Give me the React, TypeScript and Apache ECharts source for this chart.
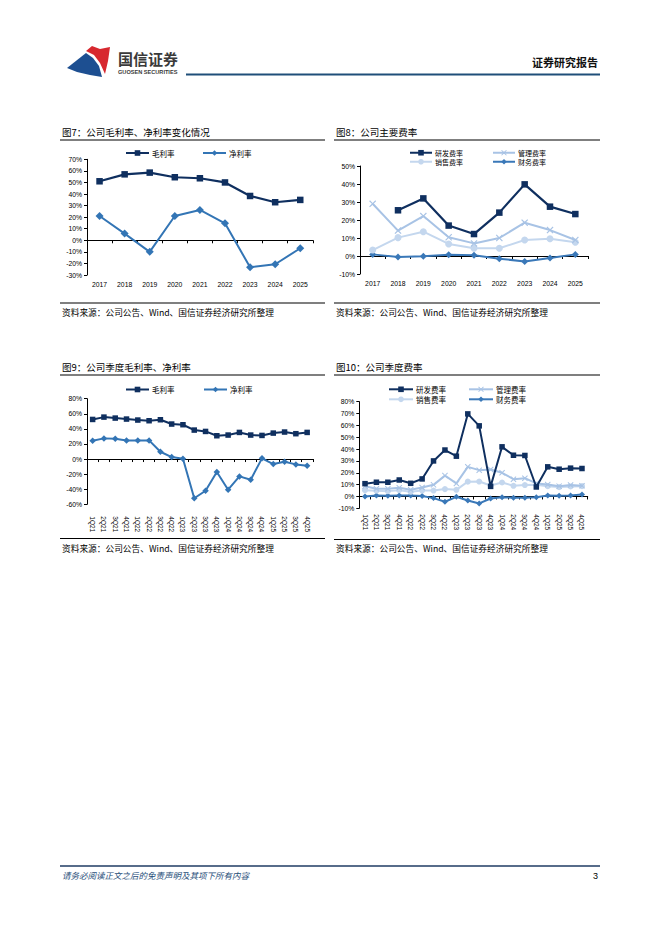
import React, { useEffect, useRef } from "react";
import * as echarts from "echarts";

const years = ["2017", "2018", "2019", "2020", "2021", "2022", "2023", "2024", "2025"];
const grossYear = [51, 57, 58.5, 54.5, 53.6, 50, 38.3, 32.9, 34.9];
const netYear = [21, 5.8, -10, 21, 26.2, 14.7, -23.3, -20.7, -6.9];
const rdYear = [null, 25.4, 32, 16.9, 12.2, 24.1, 39.8, 27.4, 23.3];
const adminYear = [29, 14.1, 22.2, 10.4, 7, 10, 18.5, 14.4, 8.9];
const salesYear = [3.3, 10.2, 13.5, 6.7, 4.3, 4.3, 8.9, 9.6, 7.6];
const finYear = [0.9, -0.6, -0.2, 0.7, 0.4, -1.5, -3, -1.1, 0.9];

const quarters = [
  "1Q21", "2Q21", "3Q21", "4Q21", "1Q22", "2Q22", "3Q22", "4Q22", "1Q23", "2Q23",
  "3Q23", "4Q23", "1Q24", "2Q24", "3Q24", "4Q24", "1Q25", "2Q25", "3Q25", "4Q25",
];
const grossQ = [52.5, 55.6, 54.3, 53, 51.7, 50.8, 52.1, 46.4, 45.5, 38.4, 36.6, 30.9, 31.8, 35.3, 31.8, 31.3, 34.4, 35.8, 33.6, 35.3];
const netQ = [24.3, 27.4, 26.9, 24.7, 24.7, 24.7, 9.7, 2.6, 0.4, -52, -42, -17.2, -40.6, -23, -27.4, 0.9, -6.6, -3.5, -7.1, -8.8];
const rdQ = [10.8, 12, 12, 13.9, 11.1, 14.8, 30, 39.2, 34, 69.7, 59.6, 8.5, 41.9, 34.8, 34.6, 8, 25, 23, 23.9, 23.6];
const adminQ = [8.7, 6.5, 6.5, 7.3, 5.6, 7.6, 9.8, 17.6, 11, 25, 22.2, 22.8, 20, 14.6, 15.4, 11, 10, 8.7, 9.6, 9];
const salesQ = [5.3, 4.8, 4.5, 5.3, 3.9, 5, 5, 6.2, 5.6, 12.5, 12.6, 9.3, 11.8, 9, 9.6, 9.8, 8.7, 7.9, 8.4, 8.7];
const finQ = [0, 0.8, 0.6, 0.8, 0.8, 0.3, -1.4, -4.5, -0.3, -3.4, -5.9, -1.7, -0.6, -1.1, -1.1, -0.6, 0.8, 0.6, 0.8, 1.7];

const NAVY = "#0f2f5f";
const MID = "#3375b5";
const ADMIN = "#a8c3e5";
const SALES = "#c4d7ee";
const FIN = "#3a78b8";
const XSYM = "path://M0,1.2L1.2,0L5,3.8L8.8,0L10,1.2L6.2,5L10,8.8L8.8,10L5,6.2L1.2,10L0,8.8L3.8,5Z";

const CJK = "'Noto Sans CJK SC', sans-serif";
const LAT = "'Liberation Sans', Arial, sans-serif";

export default function App() {
  const ref = useRef<HTMLDivElement>(null);
  useEffect(() => {
    if (!ref.current) return;
    const chart = echarts.init(ref.current, undefined, { renderer: "svg" });

    const grids = [
      { left: 87, top: 159.3, width: 225.8, height: 115.7 },
      { left: 360, top: 166, width: 228, height: 108 },
      { left: 87, top: 398.7, width: 225.8, height: 105.6 },
      { left: 359.3, top: 401.7, width: 228.4, height: 106.6 },
    ];
    const cats = [years, years, quarters, quarters];
    const yr = [
      { min: -30, max: 70, interval: 10 },
      { min: -10, max: 50, interval: 10 },
      { min: -60, max: 80, interval: 20 },
      { min: -10, max: 80, interval: 10 },
    ];
    const labelMargin = [6, 6, 12, 6];
    const xAxis: any[] = [];
    const yAxis: any[] = [];
    cats.forEach((c, i) => {
      const rotated = i >= 2;
      xAxis.push({
        type: "category",
        gridIndex: i,
        data: c,
        position: "bottom",
        boundaryGap: true,
        axisLine: { show: false, onZero: false },
        axisTick: { show: false },
        axisLabel: {
          show: true,
          interval: 0,
          rotate: rotated ? -90 : 0,
          margin: labelMargin[i],
          fontSize: rotated ? 6.5 : 6.8,
          color: "#000",
          fontFamily: LAT,
        },
        splitLine: { show: false },
      });
      xAxis.push({
        type: "category",
        gridIndex: i,
        data: c,
        position: "bottom",
        boundaryGap: true,
        axisLine: { show: true, onZero: true, lineStyle: { color: "#000", width: 1 } },
        axisTick: { show: true, length: 3, interval: 0, lineStyle: { color: "#000", width: 1 } },
        axisLabel: { show: false },
        splitLine: { show: false },
      });
      yAxis.push({
        type: "value",
        gridIndex: i,
        min: yr[i].min,
        max: yr[i].max,
        interval: yr[i].interval,
        axisLine: { show: true, lineStyle: { color: "#000", width: 1 } },
        axisTick: { show: true, length: 3, lineStyle: { color: "#000", width: 1 } },
        axisLabel: { formatter: "{value}%", fontSize: 6.8, color: "#000", margin: 5, fontFamily: LAT },
        splitLine: { show: false },
      });
    });

    const ln = (
      name: string,
      data: any[],
      gi: number,
      color: string,
      symbol: string,
      size: number,
      width: number,
      z: number
    ) => ({
      type: "line",
      name,
      data,
      xAxisIndex: gi * 2,
      yAxisIndex: gi,
      symbol,
      symbolSize: size,
      showSymbol: true,
      connectNulls: false,
      itemStyle: { color, opacity: 1 },
      lineStyle: { color, width },
      z,
      emphasis: { disabled: true },
    });

    const series = [
      ln("毛利率", grossYear, 0, NAVY, "rect", 6.5, 2.2, 3),
      ln("净利率", netYear, 0, MID, "diamond", 8, 2, 3),
      ln("财务费率", finYear, 1, FIN, "diamond", 7, 2, 2),
      ln("销售费率", salesYear, 1, SALES, "circle", 7, 2, 3),
      ln("管理费率", adminYear, 1, ADMIN, XSYM, 7, 2, 4),
      ln("研发费率", rdYear, 1, NAVY, "rect", 6.5, 2.2, 5),
      ln("毛利率", grossQ, 2, NAVY, "rect", 5.5, 2, 3),
      ln("净利率", netQ, 2, MID, "diamond", 6.5, 2, 3),
      ln("财务费率", finQ, 3, FIN, "diamond", 6, 2, 2),
      ln("销售费率", salesQ, 3, SALES, "circle", 6, 2, 3),
      ln("管理费率", adminQ, 3, ADMIN, XSYM, 6, 2, 4),
      ln("研发费率", rdQ, 3, NAVY, "rect", 5.5, 2, 5),
    ];

    const lg = (data: string[], left: number, top: number, gap: number, iw: number, fs = 7.5) => ({
      data,
      left,
      top,
      orient: "horizontal",
      padding: 0,
      itemGap: gap,
      itemWidth: iw,
      itemHeight: 7,
      selectedMode: false,
      textStyle: {
        fontSize: fs,
        lineHeight: fs + 0.5,
        color: "#000",
        fontFamily: CJK,
        padding: [0, 0, 0, -2],
      },
    });
    const legend = [
      lg(["毛利率", "净利率"], 125, 149, 27.5, 23),
      lg(["研发费率", "管理费率"], 409, 149, 29, 22, 7),
      lg(["销售费率", "财务费率"], 409, 158, 29, 22, 7),
      lg(["毛利率", "净利率"], 125, 385.5, 28.5, 23),
      lg(["研发费率", "管理费率"], 388, 385.3, 22, 24),
      lg(["销售费率", "财务费率"], 388, 395.3, 22, 24),
    ];

    const txt = (text: string, x: number, y: number, size: number, opts: any = {}) => ({
      type: "text",
      silent: true,
      style: {
        text,
        x,
        y,
        fill: opts.fill || "#000",
        fontSize: size,
        fontFamily: opts.family || CJK,
        fontWeight: opts.weight || "normal",
        fontStyle: opts.style || "normal",
        textAlign: opts.align || "left",
        align: opts.align || "left",
        textVerticalAlign: "middle",
        verticalAlign: "middle",
      },
    });
    const hl = (x1: number, x2: number, y: number, color = "#000", w = 1.2) => ({
      type: "line",
      silent: true,
      shape: { x1, y1: y, x2, y2: y },
      style: { stroke: color, lineWidth: w },
    });

    const graphic: any[] = [
      // header logo
      {
        type: "polygon",
        silent: true,
        shape: { points: [[67, 68], [86, 53], [93, 58], [99, 66], [102, 77], [90, 75], [77, 72]] },
        style: { fill: "#1d4f91" },
      },
      {
        type: "polygon",
        silent: true,
        shape: { points: [[86, 51], [92, 46], [100, 49], [110, 47], [108, 61], [105, 74], [100, 63], [94, 55]] },
        style: { fill: "#d7282f" },
      },
      txt("国信证券", 118, 58, 15, { weight: "bold", fill: "#3a3a3a" }),
      txt("GUOSEN SECURITIES", 118, 71.5, 5.6, { family: LAT, fill: "#3a3a3a", weight: "bold" }),
      txt("证券研究报告", 598, 62, 11, { weight: "bold", fill: "#111", align: "right" }),
      hl(186, 600, 74.5, "#1f4e79", 2),
      // chart titles
      txt("图7：公司毛利率、净利率变化情况", 62, 131.5, 9.5),
      txt("图8：公司主要费率", 336, 131.5, 9.5),
      txt("图9：公司季度毛利率、净利率", 62, 366.5, 9.5),
      txt("图10：公司季度费率", 336, 366.5, 9.5),
      hl(60, 325, 140),
      hl(334, 600, 140),
      hl(60, 325, 375),
      hl(334, 600, 375),
      hl(60, 325, 303),
      hl(334, 600, 303),
      hl(60, 325, 538.5),
      hl(334, 600, 539.5),
      txt("资料来源：公司公告、Wind、国信证券经济研究所整理", 62, 312, 8.7),
      txt("资料来源：公司公告、Wind、国信证券经济研究所整理", 336, 312, 8.7),
      txt("资料来源：公司公告、Wind、国信证券经济研究所整理", 62, 548, 8.7),
      txt("资料来源：公司公告、Wind、国信证券经济研究所整理", 336, 548.5, 8.7),
      // footer
      hl(60, 600, 866, "#1f3b63", 1.5),
      txt("请务必阅读正文之后的免责声明及其项下所有内容", 62, 875, 8.5, { style: "italic", fill: "#1f4e79" }),
      txt("3", 598, 876, 9, { family: LAT, align: "right" }),
    ];

    chart.setOption({
      animation: false,
      backgroundColor: "#fff",
      grid: grids,
      xAxis,
      yAxis,
      legend,
      series,
      graphic,
    });
    return () => chart.dispose();
  }, []);
  return (
    <div
      ref={ref}
      style={{ position: "fixed", left: 0, top: 0, width: 662, height: 936, background: "#fff" }}
    />
  );
}
